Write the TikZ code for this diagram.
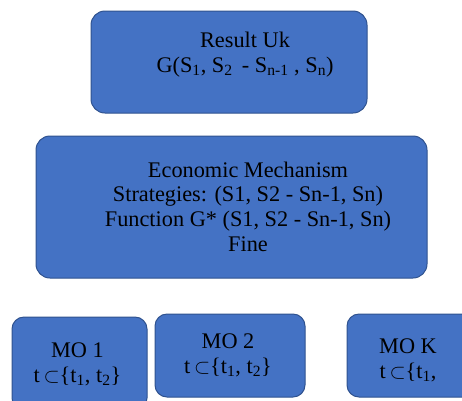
\documentclass[tikz,border=0pt]{standalone}
\usepackage{fontspec}
\setmainfont{Liberation Serif}
\usepackage{xcolor}
\usetikzlibrary{positioning}
\definecolor{boxfill}{HTML}{4472C4}
\definecolor{boxline}{HTML}{2F528F}

\begin{document}
\begin{tikzpicture}[x=1pt, y=-1pt,
    panel/.style={draw=boxline, fill=boxfill, line width=1pt, rectangle, rounded corners=14pt, inner sep=0pt, outer sep=0pt},
    label/.style={align=center, inner sep=0pt, font=\fontsize{22.3}{24.8}\selectfont}]
                        \useasboundingbox (0, 0) rectangle (462, 400);
                        \clip (0, 0) rectangle (462, 400);

                        % boxes
                        \node[panel, minimum width=276pt, minimum height=102pt] (result) at (229, 62) {};
                        \node[panel, minimum width=391pt, minimum height=142pt] (mech) at (231.5, 207) {};
                        \node[panel, rounded corners=12pt, minimum width=135pt, minimum height=93pt] (mo1) at (79.5, 363.5) {};
                        \node[panel, rounded corners=12pt, minimum width=150pt, minimum height=83pt] (mo2) at (230, 355.5) {};
                        \node[panel, rounded corners=12pt, minimum width=133pt, minimum height=83pt] (mok) at (413.5, 355.5) {};

                        % texts
                        \node[label] (resulttxt) at (245, 54.5)
                        {Result Uk\\G(S\textsubscript{1}, S\textsubscript{2} \,- S\textsubscript{n-1} , S\textsubscript{n})};
                        \node[label] (mechtxt) at (248, 206.7)
                        {Economic Mechanism\\Strategies: (S1, S2 - Sn-1, Sn)\\Function G* (S1, S2 - Sn-1, Sn)\\Fine};
                        \node[label] (mo1txt) at (77.5, 364.5)
                        {MO 1\\t\,$\subset$\{t\textsubscript{1}, t\textsubscript{2}\}};
                        \node[label] (mo2txt) at (228, 355.5)
                        {MO 2\\t\,$\subset$\{t\textsubscript{1}, t\textsubscript{2}\}};
                        \node[label] (moktxt) at (408, 360.5)
                        {MO K\\t\,$\subset$\{t\textsubscript{1},};
\end{tikzpicture}
\end{document}
